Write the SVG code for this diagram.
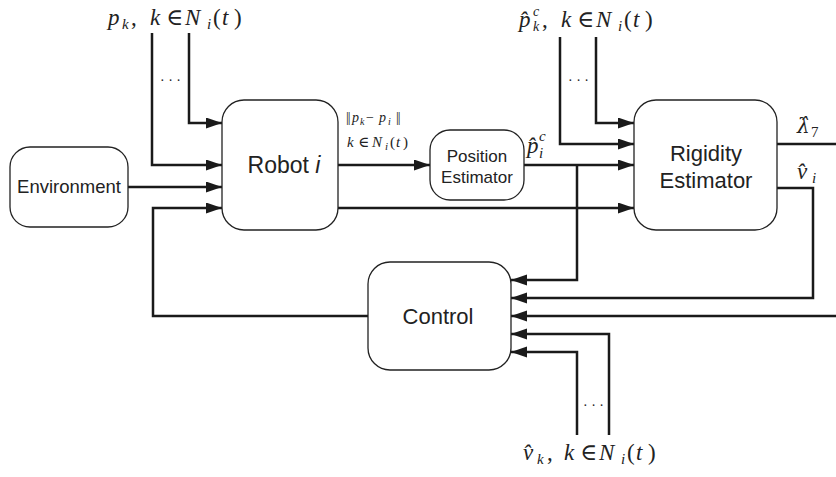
<svg xmlns="http://www.w3.org/2000/svg" width="836" height="477" viewBox="0 0 836 477">
<defs>
<marker id="arr" markerUnits="userSpaceOnUse" markerWidth="17" markerHeight="12" refX="16" refY="5.5" orient="auto">
<path d="M0,0 L16,5.5 L0,11 z" fill="#1a1a1a"/>
</marker>
<style>
.box{fill:#fff;stroke:#222;stroke-width:1.3}
.lbl{font-family:"Liberation Sans",Arial,sans-serif;fill:#222;text-anchor:middle}
.math{font-family:"Liberation Serif","Times New Roman",serif;font-style:italic;fill:#222}
.rm{font-style:normal}
.el{font-style:normal;font-family:"DejaVu Serif","Liberation Serif",serif}
.ln{fill:none;stroke:#1a1a1a;stroke-width:2.5}
.arw{marker-end:url(#arr)}
.dots{font-family:"Liberation Serif",serif;fill:#222;font-size:14px}
</style>
</defs>
<rect width="836" height="477" fill="#fff"/>

<g id="connectors">
<path class="ln arw" d="M152,33 V165 H222"/>
<path class="ln arw" d="M189,33 V123 H222"/>
<path class="ln arw" d="M128,187 H222"/>
<path class="ln arw" d="M368,316 H153 V208 H222"/>
<path class="ln arw" d="M338,165 H430"/>
<path class="ln arw" d="M338,208 H634"/>
<path class="ln arw" d="M524,165 H634"/>
<path class="ln arw" d="M577,165 V280 H511"/>
<path class="ln arw" d="M560,37 V144 H634"/>
<path class="ln arw" d="M596,37 V123 H634"/>
<path class="ln" d="M777,144 H836"/>
<path class="ln arw" d="M777,188 H813 V298 H511"/>
<path class="ln arw" d="M836,316 H511"/>
<path class="ln arw" d="M609,435 V334 H511"/>
<path class="ln arw" d="M577,435 V352 H511"/>
</g>

<g id="environment">
<rect class="box" x="10" y="147" width="118" height="80" rx="20"/>
<text class="lbl" x="69" y="193" font-size="18.5">Environment</text>
</g>

<g id="robot">
<rect class="box" x="222" y="100" width="116" height="130" rx="22"/>
<text class="lbl" x="284" y="173" font-size="23">Robot <tspan font-style="italic">i</tspan></text>
</g>

<g id="position-estimator">
<rect class="box" x="430" y="130" width="94" height="70" rx="20"/>
<text class="lbl" x="477" y="162" font-size="17">Position</text>
<text class="lbl" x="477" y="183" font-size="17">Estimator</text>
</g>

<g id="rigidity-estimator">
<rect class="box" x="634" y="100" width="143" height="130" rx="22"/>
<text class="lbl" x="706" y="161" font-size="22">Rigidity</text>
<text class="lbl" x="706" y="188" font-size="22">Estimator</text>
</g>

<g id="control">
<rect class="box" x="368" y="262" width="143" height="108" rx="22"/>
<text class="lbl" x="438" y="324" font-size="22">Control</text>
</g>

<g id="labels">
<!-- top-left: p_k, k ∈ N_i(t) -->
<text class="math" font-size="23"><tspan x="108" y="25">p</tspan><tspan x="122" y="29" font-size="15">k</tspan><tspan x="131" y="25" class="rm">,</tspan><tspan x="150" y="25">k</tspan><tspan x="166" y="25" class="el" font-size="23">∈</tspan><tspan x="185" y="25">N</tspan><tspan x="207" y="29" font-size="15">i</tspan><tspan x="213" y="25" class="rm">(</tspan><tspan x="222" y="25">t</tspan><tspan x="234" y="25" class="rm">)</tspan></text>
<text class="dots" x="160" y="85">· · ·</text>

<!-- top-right: p̂^c_k, k ∈ N_i(t) -->
<text class="math" font-size="23"><tspan x="519" y="27">p̂</tspan><tspan x="533" y="16" font-size="14">c</tspan><tspan x="533" y="31" font-size="14">k</tspan><tspan x="542" y="27" class="rm">,</tspan><tspan x="561" y="27">k</tspan><tspan x="577" y="27" class="el" font-size="23">∈</tspan><tspan x="596" y="27">N</tspan><tspan x="618" y="31" font-size="15">i</tspan><tspan x="624" y="27" class="rm">(</tspan><tspan x="633" y="27">t</tspan><tspan x="645" y="27" class="rm">)</tspan></text>
<text class="dots" x="568" y="85">· · ·</text>

<!-- edge label robot -> position estimator -->
<text class="math" font-size="14" fill="#333"><tspan x="346" y="122" class="rm" letter-spacing="-1">||</tspan><tspan x="352" y="122">p</tspan><tspan x="360" y="125" font-size="10">k</tspan><tspan x="366" y="122" class="rm">−</tspan><tspan x="379" y="122">p</tspan><tspan x="388" y="125" font-size="10">i</tspan><tspan x="396" y="122" class="rm" letter-spacing="-1">||</tspan></text>
<text class="math" font-size="15"><tspan x="347" y="147">k</tspan><tspan x="358" y="147" class="el" font-size="15">∈</tspan><tspan x="372" y="147">N</tspan><tspan x="385" y="150" font-size="11">i</tspan><tspan x="390" y="147" class="rm">(</tspan><tspan x="396" y="147">t</tspan><tspan x="403" y="147" class="rm">)</tspan></text>

<!-- p̂^c_i -->
<text class="math" font-size="23"><tspan x="527" y="153">p̂</tspan><tspan x="539" y="141" font-size="15">c</tspan><tspan x="539" y="158" font-size="15">i</tspan></text>

<!-- λ̂_7 -->
<text class="math" font-size="22"><tspan x="797" y="133" font-family="DejaVu Serif" font-size="20">λ̂</tspan><tspan x="811" y="137" font-size="15" class="rm">7</tspan></text>

<!-- v̂_i -->
<text class="math" font-size="23"><tspan x="797" y="179">v̂</tspan><tspan x="812" y="183" font-size="15">i</tspan></text>

<!-- bottom: v̂_k, k ∈ N_i(t) -->
<text class="dots" x="583" y="410">· · ·</text>
<text class="math" font-size="23"><tspan x="523" y="460">v̂</tspan><tspan x="537" y="464" font-size="15">k</tspan><tspan x="547" y="460" class="rm">,</tspan><tspan x="564" y="460">k</tspan><tspan x="580" y="460" class="el" font-size="23">∈</tspan><tspan x="599" y="460">N</tspan><tspan x="621" y="464" font-size="15">i</tspan><tspan x="627" y="460" class="rm">(</tspan><tspan x="636" y="460">t</tspan><tspan x="648" y="460" class="rm">)</tspan></text>
</g>
</svg>
